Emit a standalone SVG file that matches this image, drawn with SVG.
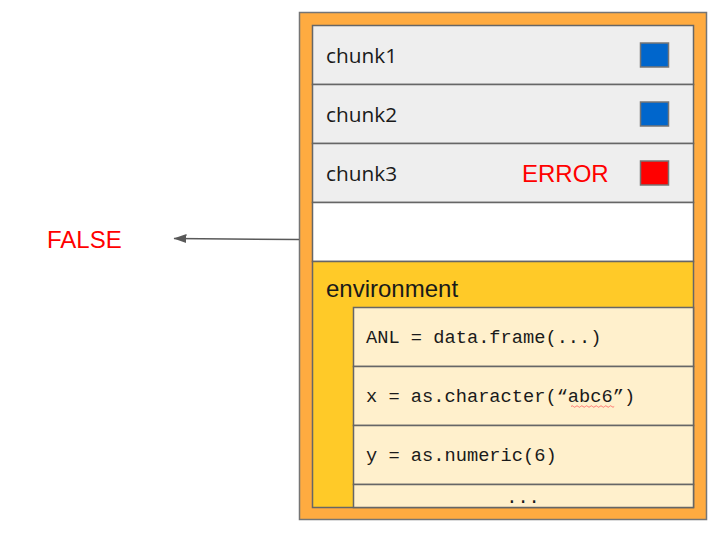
<svg xmlns="http://www.w3.org/2000/svg" width="723" height="540" viewBox="0 0 723 540">
<defs>
<marker id="ah" markerWidth="13" markerHeight="9" refX="12.5" refY="4.5" orient="auto" markerUnits="userSpaceOnUse">
<path d="M0,0 L13,4.5 L0,9 Z" fill="#595959"/>
</marker>
<style>
.box{stroke:#666666;stroke-width:1.5}
.chunk{font-family:"Open Sans","Liberation Sans",sans-serif;font-size:20.8px;fill:#1a1a1a}
.code{font-family:"Liberation Mono","DejaVu Sans Mono",monospace;font-size:18.7px;fill:#1a1a1a}
.red{font-family:"Liberation Sans",Arial,sans-serif;font-size:24px;fill:#ff0000}
.sq{stroke:#757575;stroke-width:1.5}
</style>
</defs>
<rect width="723" height="540" fill="#ffffff"/>
<g id="container">
<rect x="299.5" y="12.5" width="407" height="507" fill="#ffab40" stroke="#757575" stroke-width="1.5"/>
</g>
<g id="chunk1">
<rect class="box" x="312.5" y="25.5" width="381" height="59" fill="#eeeeee"/>
<text class="chunk" x="326" y="63">chunk1</text>
<rect class="sq" x="640.5" y="43" width="28" height="24" fill="#0066cc"/>
</g>
<g id="chunk2">
<rect class="box" x="312.5" y="84.5" width="381" height="59" fill="#eeeeee"/>
<text class="chunk" x="326" y="122">chunk2</text>
<rect class="sq" x="640.5" y="102" width="28" height="24" fill="#0066cc"/>
</g>
<g id="chunk3">
<rect class="box" x="312.5" y="143.5" width="381" height="59" fill="#eeeeee"/>
<text class="chunk" x="326" y="181">chunk3</text>
<text class="red" x="522" y="182">ERROR</text>
<rect class="sq" x="640.5" y="161" width="28" height="24" fill="#ff0000"/>
</g>
<g id="blank">
<rect class="box" x="312.5" y="202.5" width="381" height="59" fill="#ffffff"/>
</g>
<g id="environment">
<rect class="box" x="312.5" y="261.5" width="381" height="246" fill="#ffca28"/>
<text x="326" y="297" style="font-family:'Liberation Sans',Arial,sans-serif;font-size:24px;fill:#1a1a1a">environment</text>
</g>
<g id="code1">
<rect class="box" x="353.5" y="307.5" width="340" height="59" fill="#fff0cc"/>
<text class="code" x="366" y="343">ANL = data.frame(...)</text>
</g>
<g id="code2">
<rect class="box" x="353.5" y="366.5" width="340" height="59" fill="#fff0cc"/>
<text class="code" x="366" y="402">x = as.character(“abc6”)</text>
<path d="M571,406.5 q1.2,-1.5 2.4,0 t2.4,0 t2.4,0 t2.4,0 t2.4,0 t2.4,0 t2.4,0 t2.4,0 t2.4,0 t2.4,0 t2.4,0 t2.4,0 t2.4,0 t2.4,0 t2.4,0 t2.4,0 t2.4,0 t2.4,0" fill="none" stroke="#ff5c5c" stroke-width="0.8"/>
</g>
<g id="code3">
<rect class="box" x="353.5" y="425.5" width="340" height="59" fill="#fff0cc"/>
<text class="code" x="366" y="461">y = as.numeric(6)</text>
</g>
<g id="code4">
<rect class="box" x="353.5" y="484.5" width="340" height="23" fill="#fff0cc"/>
<text class="code" x="523" y="503" text-anchor="middle">...</text>
</g>
<g id="false">
<text class="red" x="47" y="248">FALSE</text>
</g>
<g id="connectors">
<line x1="299" y1="239.5" x2="174" y2="238.5" stroke="#595959" stroke-width="1.5" marker-end="url(#ah)"/>
</g>
</svg>
